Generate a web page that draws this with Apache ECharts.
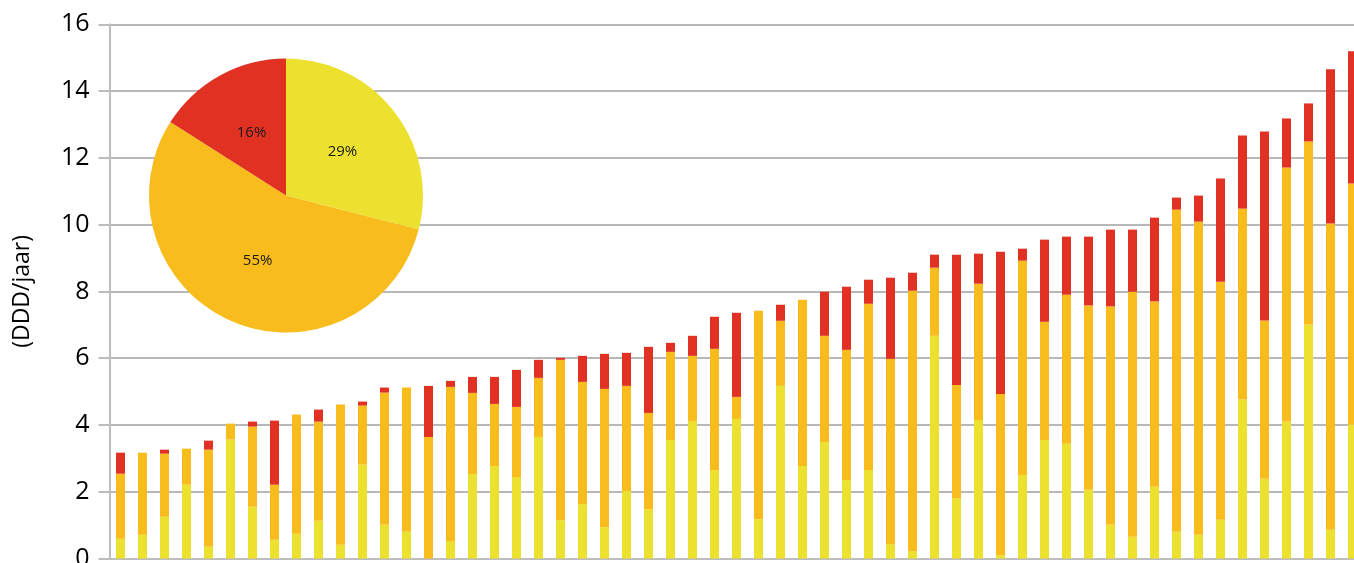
<!DOCTYPE html>
<html><head><meta charset="utf-8">
<script src="https://cdn.jsdelivr.net/npm/echarts@6/dist/echarts.min.js"></script>
<style>html,body{margin:0;padding:0;background:#fff}#c{width:1354px;height:563px}</style>
</head><body><div id="c"></div>
<script>
const categories = Array.from({length: 57}, (_, i) => String(i + 1));
const yellowValues = [0.59,0.71,1.25,2.21,0.35,3.56,1.55,0.56,0.74,1.13,0.41,2.81,1.01,0.80,0,0.52,2.53,2.77,2.44,3.64,1.15,1.63,0.94,2.02,1.48,3.55,4.12,2.65,4.18,1.18,5.17,2.77,3.49,2.35,2.65,0.43,0.22,6.67,1.81,4.15,0.10,2.50,3.55,3.44,2.06,1.01,0.65,2.15,0.80,0.71,1.16,4.76,2.39,4.10,7.01,0.86,4.01];
const orangeValues = [1.95,2.46,1.89,1.08,2.91,0.48,2.40,1.65,3.57,2.97,4.20,1.77,3.96,4.32,3.64,4.62,2.43,1.86,2.10,1.77,4.80,3.66,4.14,3.15,2.88,2.64,1.95,3.63,0.66,6.24,1.95,4.98,3.18,3.90,4.98,5.55,7.80,2.04,3.39,4.08,4.83,6.42,3.54,4.46,5.52,6.54,7.34,5.55,9.65,9.38,7.13,5.72,4.74,7.61,5.48,9.17,7.22];
const redValues = [0.63,0,0.12,0,0.27,0,0.15,1.92,0,0.36,0,0.12,0.15,0,1.53,0.18,0.48,0.81,1.11,0.54,0.06,0.78,1.05,0.99,1.98,0.27,0.60,0.96,2.52,0,0.48,0,1.32,1.89,0.72,2.43,0.54,0.39,3.90,0.90,4.26,0.36,2.46,1.74,2.06,2.30,1.86,2.51,0.36,0.78,3.09,2.19,5.66,1.47,1.14,4.62,3.96];
const pieNames = ['geel', 'oranje', 'rood'];
const pieShares = [29, 55, 16];
const yAxisName = '(DDD/jaar)';

const YELLOW = '#ECE12F', ORANGE = '#F9BC1D', RED = '#E03123';
const FONT = 'Open Sans';

const chart = echarts.init(document.getElementById('c'), null, {renderer: 'canvas'});
chart.setOption({
  animation: false,
  backgroundColor: '#fff',
  grid: {left: 109.5, top: 24.3, width: 1254, height: 534.2, containLabel: false, outerBoundsMode: 'none'},
  xAxis: {
    type: 'category', data: categories, boundaryGap: true,
    axisLine: {show: true, lineStyle: {color: '#bdbdbd', width: 2}},
    axisTick: {show: false}, axisLabel: {show: false}, splitLine: {show: false}
  },
  yAxis: {
    type: 'value', min: 0, max: 16, interval: 2,
    name: yAxisName, nameLocation: 'middle', nameRotate: 90, nameGap: 76,
    nameTextStyle: {fontSize: 23, color: '#000', fontFamily: FONT},
    axisLine: {show: true, lineStyle: {color: '#bdbdbd', width: 2}},
    axisTick: {show: true, length: 11, lineStyle: {color: '#bdbdbd', width: 2}},
    axisLabel: {fontSize: 25, color: '#000', margin: 20, fontFamily: FONT},
    splitLine: {show: true, lineStyle: {color: '#b8b8b8', width: 2}}
  },
  series: [
    {type: 'bar', stack: 's', data: yellowValues, barWidth: 9, itemStyle: {color: YELLOW}, silent: true},
    {type: 'bar', stack: 's', data: orangeValues, barWidth: 9, itemStyle: {color: ORANGE}, silent: true},
    {type: 'bar', stack: 's', data: redValues, barWidth: 9, itemStyle: {color: RED}, silent: true},
    {
      type: 'pie', center: [286, 195.5], radius: 137, startAngle: 90, clockwise: true,
      z: 10, silent: true,
      data: pieNames.map((n, i) => ({name: n, value: pieShares[i], itemStyle: {color: [YELLOW, ORANGE, RED][i]}})),
      label: {show: true, position: 'inside', formatter: '{d}%', fontSize: 15, color: '#1a1a1a', fontFamily: FONT},
      labelLine: {show: false},
      emphasis: {disabled: true}
    }
  ]
});
</script>
</body></html>
